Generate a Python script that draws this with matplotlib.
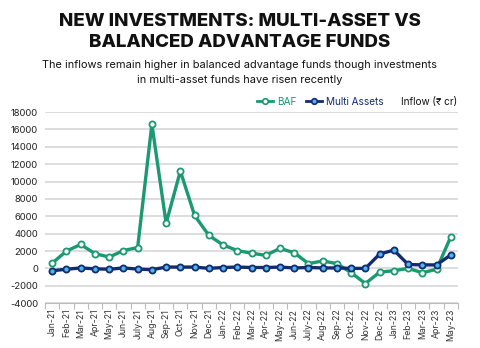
import matplotlib
matplotlib.use("Agg")
import matplotlib.pyplot as plt
from matplotlib.lines import Line2D
import numpy as np

months = ["Jan-21", "Feb-21", "Mar-21", "Apr-21", "May-21", "Jun-21", "July-21",
          "Aug-21", "Sep-21", "Oct-21", "Nov-21", "Dec-21", "Jan-22", "Feb-22",
          "Mar-22", "Apr-22", "May-22", "Jun-22", "July-22", "Aug-22", "Sep-22",
          "Oct-22", "Nov-22", "Dec-22", "Jan-23", "Feb-23", "Mar-23", "Apr-23",
          "May-23"]
baf = [600, 2000, 2750, 1700, 1300, 2050, 2400, 16600, 5200, 11200, 6100, 3800,
       2700, 2050, 1750, 1500, 2300, 1800, 550, 850, 550, -500, -1750, -430,
       -270, 0, -500, -100, 3640]
multi_assets = [-270, -100, 50, -50, -100, 50, -80, -150, 150, 150, 150, 0,
                100, 150, 100, 100, 150, 50, 100, 50, 50, 0, 0, 1650, 2100, 450,
                400, 400, 1550]
y_ticks = list(range(-4000, 18001, 2000))

GREEN = "#1a9a6e"
NAVY = "#122c73"
LIGHT_BLUE = "#4fb6ea"
FONT = ["Inter", "DejaVu Sans"]

plt.rcParams["font.family"] = FONT

fig = plt.figure(figsize=(4.8, 3.48), dpi=100)
fig.patch.set_facecolor("white")
ax = fig.add_axes([0.094, 0.129, 0.86, 0.549])

x = np.arange(len(months))
ax.plot(x, baf, color=GREEN, lw=2.4, marker="o", ms=4.4, mfc="white",
        mec=GREEN, mew=1.3, zorder=3)
ax.plot(x, multi_assets, color=NAVY, lw=2.4, marker="o", ms=4.4,
        mfc=LIGHT_BLUE, mec=NAVY, mew=1.3, zorder=4)

ax.set_xlim(-0.5, len(months) - 0.5)
ax.set_ylim(-4000, 18000)
ax.set_yticks(y_ticks)
ax.set_yticklabels([str(v) for v in y_ticks], fontsize=6.8, color="#222222")
ax.yaxis.grid(True, color="#d3d3d3", lw=1.1)
ax.set_axisbelow(True)
ax.tick_params(axis="y", length=0, pad=5)

ax.set_xticks(x)
ax.set_xticklabels(months, rotation=90, fontsize=6.3, color="#333333")
ax.set_xticks(np.arange(-0.5, len(months), 1), minor=True)
ax.tick_params(axis="x", which="major", length=0, pad=4)
ax.tick_params(axis="x", which="minor", length=4, color="#bbbbbb", width=0.8)

for s in ["top", "right", "left"]:
    ax.spines[s].set_visible(False)
ax.spines["bottom"].set_color("#bbbbbb")
ax.spines["bottom"].set_linewidth(0.8)

# Title and subtitle
fig.text(0.5, 0.937, "NEW INVESTMENTS: MULTI-ASSET VS", ha="center", va="center",
         fontsize=13.5, fontweight="heavy", color="#111111")
fig.text(0.5, 0.879, "BALANCED ADVANTAGE FUNDS", ha="center", va="center",
         fontsize=13.5, fontweight="heavy", color="#111111")
fig.text(0.5, 0.812, "The inflows remain higher in balanced advantage funds though investments",
         ha="center", va="center", fontsize=7.9, color="#111111")
fig.text(0.5, 0.771, "in multi-asset funds have risen recently",
         ha="center", va="center", fontsize=7.9, color="#111111")

# Legend row
handles = [
    Line2D([], [], color=GREEN, lw=2, marker="o", ms=4, mfc="white", mec=GREEN, mew=1.2),
    Line2D([], [], color=NAVY, lw=2, marker="o", ms=4, mfc=LIGHT_BLUE, mec=NAVY, mew=1.2),
]
leg = fig.legend(handles, ["BAF", "Multi Assets"], loc="center", ncol=2,
                 bbox_to_anchor=(0.667, 0.707), frameon=False, fontsize=7.2,
                 handlelength=1.6, handletextpad=0.4, columnspacing=1.0)
leg.get_texts()[0].set_color(GREEN)
leg.get_texts()[1].set_color(NAVY)
fig.text(0.952, 0.707, "Inflow (\u20b9 cr)", ha="right", va="center", fontsize=7.2,
         color="#111111", family=FONT)

fig.savefig("out.png", dpi=100, facecolor="white")
